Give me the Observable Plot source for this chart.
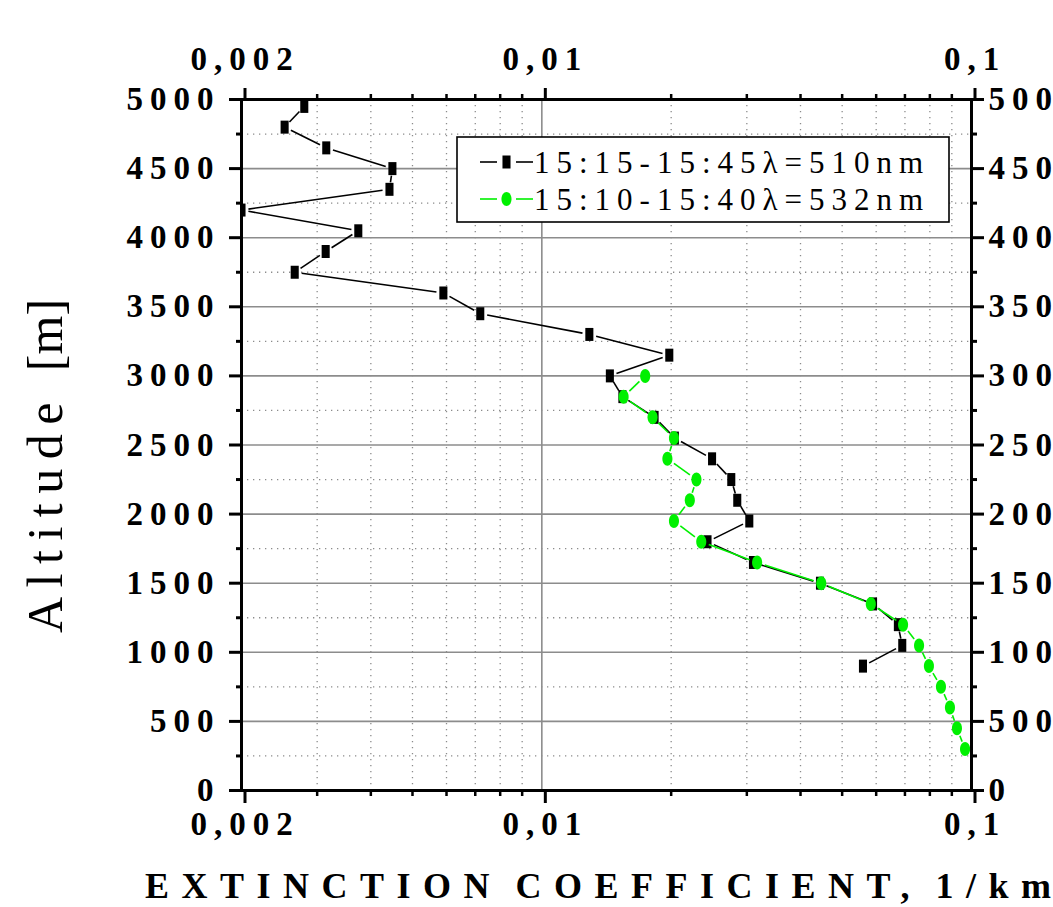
<!DOCTYPE html>
<html>
<head>
<meta charset="utf-8">
<script src="https://cdn.jsdelivr.net/npm/d3@7"></script>
<script src="https://cdn.jsdelivr.net/npm/@observablehq/plot@0.6"></script>
<style>
  html, body { margin: 0; padding: 0; background: #fff; overflow: hidden; }
  #chart svg { display: block; }
  #chart g[aria-label="y-axis tick label"] text,
  #chart g[aria-label="x-axis tick label"] text { letter-spacing: 7px; }
</style>
</head>
<body>
<div id="chart"></div>
<script>
// Extinction profiles, 510 nm (15:15-15:45)
const altitude510 = [4950, 4800, 4650, 4500, 4350, 4200, 4050, 3900, 3750, 3600, 3450, 3300, 3150, 3000,
  2850, 2700, 2550, 2400, 2250, 2100, 1950, 1800, 1650, 1500, 1350, 1200, 1050, 900];
const extinction510 = [0.0028, 0.00252, 0.00315, 0.00449, 0.00442, 0.002, 0.00374, 0.00314, 0.00266, 0.0059,
  0.00719, 0.0129, 0.0198, 0.0144, 0.0154, 0.0183, 0.0204, 0.0249, 0.0276, 0.0285, 0.0304, 0.0243, 0.031,
  0.0444, 0.059, 0.0674, 0.069, 0.0559];

// Extinction profile, 532 nm (15:10-15:40)
const altitude532 = [3000, 2850, 2700, 2550, 2400, 2250, 2100, 1950, 1800, 1650, 1500, 1350, 1200, 1050,
  900, 750, 600, 450, 300];
const extinction532 = [0.0174, 0.0155, 0.0181, 0.0203, 0.0196, 0.0229, 0.0221, 0.0203, 0.0235, 0.0317,
  0.0447, 0.0583, 0.0693, 0.0755, 0.0796, 0.0849, 0.0891, 0.0925, 0.0966];

const seriesLabels = ["15:15-15:45\u03bb=510nm", "15:10-15:40\u03bb=532nm"];
const seriesColors = ["#000000", "#00f000"];

// Axis ticks
const xMajorTicks = [0.002, 0.01, 0.1];
const xTickLabels = ["0,002", "0,01", "0,1"];
const xMinorTicks = [0.003, 0.004, 0.005, 0.006, 0.007, 0.008, 0.009,
  0.02, 0.03, 0.04, 0.05, 0.06, 0.07, 0.08, 0.09];
const yMajorTicks = [0, 500, 1000, 1500, 2000, 2500, 3000, 3500, 4000, 4500, 5000];
const yMinorTicks = [250, 750, 1250, 1750, 2250, 2750, 3250, 3750, 4250, 4750];
const yInnerGrid = [500, 1000, 1500, 2000, 2500, 3000, 3500, 4000, 4500];

const xTitle = "EXTINCTION COEFFICIENT, 1/km";
const yTitleWord = "Altitude ";
const yTitleUnit = "[m]";

// Rows and consecutive-point segments for each series
const rows510 = altitude510.map((a, i) => ({alt: a, ext: extinction510[i]}));
const rows532 = altitude532.map((a, i) => ({alt: a, ext: extinction532[i]}));
const segments = (rows) => rows.slice(1).map((d, i) => ({x1: rows[i].ext, y1: rows[i].alt, x2: d.ext, y2: d.alt}));

// Upright rectangle and ellipse markers
const rectSymbol = {
  draw(ctx, size) {
    const r = Math.sqrt(size / Math.PI), w = r * 0.62, h = r;
    ctx.moveTo(-w, -h); ctx.lineTo(w, -h); ctx.lineTo(w, h); ctx.lineTo(-w, h); ctx.closePath();
  }
};
const ellipseSymbol = {
  draw(ctx, size) {
    const r = Math.sqrt(size / Math.PI), rx = r * 0.72, ry = r, k = 0.5523;
    ctx.moveTo(rx, 0);
    ctx.bezierCurveTo(rx, ry * k, rx * k, ry, 0, ry);
    ctx.bezierCurveTo(-rx * k, ry, -rx, ry * k, -rx, 0);
    ctx.bezierCurveTo(-rx, -ry * k, -rx * k, -ry, 0, -ry);
    ctx.bezierCurveTo(rx * k, -ry, rx, -ry * k, rx, 0);
    ctx.closePath();
  }
};

const fmtX = (d) => xTickLabels[xMajorTicks.indexOf(d)] ?? "";
const tickFont = {fontSize: 33, fontWeight: "bold", fontFamily: "Liberation Serif"};
const dotted = {stroke: "#8c8c8c", strokeOpacity: 1, strokeWidth: 1.3, strokeDasharray: "1.3,4.7"};
const solid = {stroke: "#8c8c8c", strokeOpacity: 1, strokeWidth: 1.6};

const chart = Plot.plot({
  width: 1053,
  height: 907,
  marginLeft: 241,
  marginRight: 82,
  marginTop: 99,
  marginBottom: 117,
  style: {background: "#fff", fontFamily: "Liberation Serif", overflow: "visible"},
  x: {type: "log", domain: [0.002, 0.1]},
  y: {domain: [0, 5000]},
  marks: [
    // grid
    Plot.gridX(xMinorTicks, dotted),
    Plot.gridY(yMinorTicks, dotted),
    Plot.gridX([0.01], solid),
    Plot.gridY(yInnerGrid, solid),
    // minor ticks
    Plot.axisY({ticks: yMinorTicks, anchor: "left", tickSize: 5, strokeWidth: 3, tickFormat: () => "", label: null}),
    Plot.axisY({ticks: yMinorTicks, anchor: "right", tickSize: 5, strokeWidth: 3, tickFormat: () => "", label: null}),
    Plot.axisX({ticks: xMinorTicks, anchor: "bottom", tickSize: 6, strokeWidth: 2.5, tickFormat: () => "", label: null}),
    Plot.axisX({ticks: xMinorTicks, anchor: "top", tickSize: 6, strokeWidth: 2.5, tickFormat: () => "", label: null}),
    // major ticks and labels
    Plot.axisY({ticks: yMajorTicks, anchor: "left", tickSize: 12, tickPadding: 9, strokeWidth: 3,
      tickFormat: (d) => String(d), label: null, ...tickFont}),
    Plot.axisY({ticks: yMajorTicks, anchor: "right", tickSize: 12, tickPadding: 5, strokeWidth: 3,
      tickFormat: (d) => String(d), label: null, ...tickFont}),
    Plot.axisX({ticks: xMajorTicks, anchor: "bottom", tickSize: 13, tickPadding: 8, strokeWidth: 3,
      tickFormat: fmtX, label: null, dx: 3.5, ...tickFont}),
    Plot.axisX({ticks: xMajorTicks, anchor: "top", tickSize: 12, tickPadding: 18, strokeWidth: 3,
      tickFormat: fmtX, label: null, dx: 3.5, ...tickFont}),
    Plot.frame({stroke: "#000", strokeWidth: 3}),
    // 510 nm
    Plot.arrow(segments(rows510), {x1: "x1", y1: "y1", x2: "x2", y2: "y2", headLength: 0,
      insetStart: 7, insetEnd: 7, stroke: seriesColors[0], strokeWidth: 1.6, strokeLinecap: "butt", clip: true}),
    Plot.dot(rows510, {x: "ext", y: "alt", r: 6.5, symbol: rectSymbol, fill: seriesColors[0], stroke: "none", clip: true}),
    // 532 nm
    Plot.arrow(segments(rows532), {x1: "x1", y1: "y1", x2: "x2", y2: "y2", headLength: 0,
      insetStart: 8, insetEnd: 8, stroke: seriesColors[1], strokeWidth: 1.6, strokeLinecap: "butt", clip: true}),
    Plot.dot(rows532, {x: "ext", y: "alt", r: 7, symbol: ellipseSymbol, fill: seriesColors[1], stroke: "none", clip: true})
  ]
});

const svg = d3.select(chart);

// Axis titles
const yLabel = svg.append("text")
  .attr("transform", "translate(62,633) rotate(-90)")
  .attr("text-anchor", "start")
  .style("font-family", "Liberation Serif").style("font-size", "50px").attr("fill", "#000");
yLabel.append("tspan").style("letter-spacing", "9.5px").text(yTitleWord);
yLabel.append("tspan").style("letter-spacing", "0px").text(yTitleUnit);

svg.append("text")
  .attr("x", 145).attr("y", 898).attr("text-anchor", "start")
  .style("font-family", "Liberation Serif").style("font-size", "36px").style("font-weight", "bold")
  .style("letter-spacing", "12.5px").style("word-spacing", "-8px").attr("fill", "#000")
  .text(xTitle);

// Legend box
const legend = svg.append("g").attr("transform", "translate(457,137)");
legend.append("rect").attr("width", 492).attr("height", 85)
  .attr("fill", "#fff").attr("stroke", "#000").attr("stroke-width", 1.6);
const markerPaths = [d3.symbol(rectSymbol, Math.PI * 6.5 * 6.5)(), d3.symbol(ellipseSymbol, Math.PI * 7 * 7)()];
seriesLabels.forEach((label, i) => {
  const row = legend.append("g").attr("transform", `translate(0,${25 + i * 37})`);
  row.append("line").attr("x1", 23).attr("x2", 40).attr("stroke", seriesColors[i]).attr("stroke-width", 1.6);
  row.append("line").attr("x1", 59).attr("x2", 76).attr("stroke", seriesColors[i]).attr("stroke-width", 1.6);
  row.append("path").attr("transform", "translate(49.5,0)").attr("d", markerPaths[i]).attr("fill", seriesColors[i]);
  row.append("text").attr("x", 77).attr("dy", "0.35em").attr("text-anchor", "start")
    .style("font-family", "Liberation Serif").style("font-size", "31px")
    .style("letter-spacing", "7px").attr("fill", "#000")
    .text(label);
});

document.getElementById("chart").append(chart);
</script>
</body>
</html>
